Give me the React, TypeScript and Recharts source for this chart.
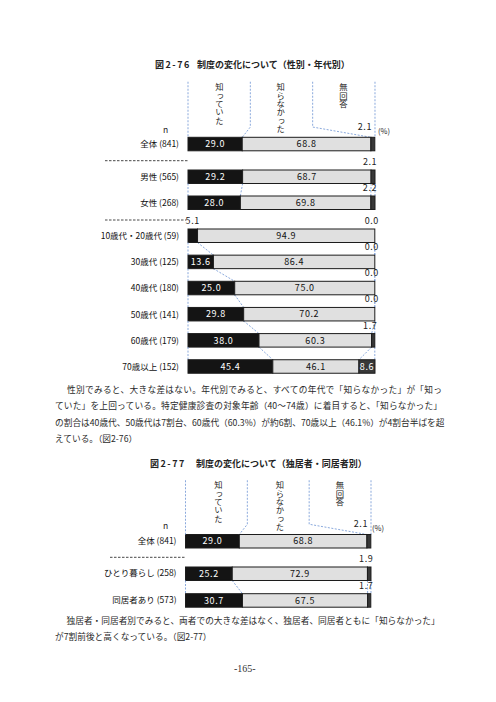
import { Bar, BarChart, XAxis, YAxis } from 'recharts';

const FONT = '"Noto Sans CJK JP", "Noto Sans", sans-serif';
const SERIF = '"Liberation Serif", "DejaVu Serif", serif';

// 図2-76 制度の変化について（性別・年代別）
const fig76Categories = [
  '全体 (841)',
  '男性 (565)',
  '女性 (268)',
  '10歳代・20歳代 (59)',
  '30歳代 (125)',
  '40歳代 (180)',
  '50歳代 (141)',
  '60歳代 (179)',
  '70歳以上 (152)',
];
const fig76Knew = [29.0, 29.2, 28.0, 5.1, 13.6, 25.0, 29.8, 38.0, 45.4];
const fig76DidNotKnow = [68.8, 68.7, 69.8, 94.9, 86.4, 75.0, 70.2, 60.3, 46.1];
const fig76NoAnswer = [2.1, 2.1, 2.2, 0.0, 0.0, 0.0, 0.0, 1.7, 8.6];

// 図2-77 制度の変化について（独居者・同居者別）
const fig77Categories = ['全体 (841)', 'ひとり暮らし (258)', '同居者あり (573)'];
const fig77Knew = [29.0, 25.2, 30.7];
const fig77DidNotKnow = [68.8, 72.9, 67.5];
const fig77NoAnswer = [2.1, 1.9, 1.7];

const seriesNames = ['知っていた', '知らなかった', '無回答'];

interface RowDatum {
  label: string;
  knew: number;
  dnk: number;
  na: number;
}

const buildRows = (cats: string[], a: number[], b: number[], c: number[]): RowDatum[] =>
  cats.map((label, i) => ({ label, knew: a[i], dnk: b[i], na: c[i] }));

const fig76Rows = buildRows(fig76Categories, fig76Knew, fig76DidNotKnow, fig76NoAnswer);
const fig77Rows = buildRows(fig77Categories, fig77Knew, fig77DidNotKnow, fig77NoAnswer);

const BAR = 13.5;
const CHART_W = 400;
const BLUE = '#7d9fd8';
const OUTLINE = '#1c1c1c';
const COLORS = { knew: '#141414', dnk: '#e0e0e0', na: '#383838' };

interface HeaderSpec {
  top: number;
  bend: number;
}

const fmt = (v: number) => v.toFixed(1);

function valueText(x: number, y: number, v: number, color: string) {
  return (
    <text
      x={x}
      y={y}
      textAnchor="middle"
      fill={color}
      fontSize={9}
      fontFamily={FONT}
      letterSpacing={0.6}
    >
      {fmt(v)}
    </text>
  );
}

// first segment also draws the small labels, the dashed connectors to the next row and the header guides
function makeKnewShape(rows: RowDatum[], step: number, header: HeaderSpec | null, barTopAbs: number) {
  return (props: any) => {
    const { x, y, width, height, index } = props;
    const row = rows[index];
    if (!row) return <g />;
    const ppu = width / row.knew;
    const X = (v: number) => x + v * ppu;
    const bounds = [0, row.knew, row.knew + row.dnk, 100];
    const out: any[] = [];

    out.push(
      <rect key="r" x={x} y={y} width={width} height={height} fill={COLORS.knew} stroke={OUTLINE} strokeWidth={1} />
    );
    if (row.knew >= 6) {
      out.push(<g key="v">{valueText(x + width / 2, y + height / 2 + 3.2, row.knew, '#fff')}</g>);
    }

    const aboveY = header ? y - 7.5 : y - 5;
    if (row.knew < 6) {
      out.push(<g key="a1">{valueText(X(row.knew / 2), aboveY, row.knew, '#222')}</g>);
    }
    if (row.na < 6) {
      const shift = header ? -8 : -3;
      out.push(<g key="a3">{valueText(X(row.knew + row.dnk + row.na / 2) + shift, aboveY, row.na, '#222')}</g>);
    }

    if (index < rows.length - 1) {
      const next = rows[index + 1];
      const nb = [0, next.knew, next.knew + next.dnk, 100];
      bounds.forEach((b, i) => {
        out.push(
          <line
            key={`c${i}`}
            x1={X(b)}
            y1={y + height}
            x2={X(nb[i])}
            y2={y + step}
            stroke={BLUE}
            strokeWidth={0.9}
            strokeDasharray="2 1.5"
          />
        );
      });
    }

    if (header && index === 0) {
      const thirds = [0, 100 / 3, 200 / 3, 100];
      const topOff = barTopAbs - header.top;
      const bendOff = barTopAbs - header.bend;
      thirds.forEach((t, i) => {
        out.push(
          <polyline
            key={`h${i}`}
            points={`${X(t)},${y - topOff} ${X(t)},${y - bendOff} ${X(bounds[i])},${y}`}
            fill="none"
            stroke={BLUE}
            strokeWidth={0.9}
            strokeDasharray="2 1.5"
          />
        );
      });
    }
    return <g>{out}</g>;
  };
}

function makeSegShape(key: 'dnk' | 'na', textColor: string) {
  return (props: any) => {
    const { x, y, width, height, payload } = props;
    const v = payload ? payload[key] : 0;
    if (!width || width <= 0) return <g />;
    return (
      <g>
        <rect x={x} y={y} width={width} height={height} fill={COLORS[key]} stroke={OUTLINE} strokeWidth={1} />
        {v >= 6 ? valueText(x + width / 2, y + height / 2 + 3.2, v, textColor) : null}
      </g>
    );
  };
}

interface GroupProps {
  rows: RowDatum[];
  top: number;
  step: number;
  plotLeft: number;
  plotRight: number;
  header?: HeaderSpec;
}

function StackGroup({ rows, top, step, plotLeft, plotRight, header }: GroupProps) {
  const marginTop = header ? top - header.top + 2 : 12;
  const height = marginTop + rows.length * step + 2;
  const barTopAbs = top + (step - BAR) / 2;
  return (
    <div style={{ position: 'absolute', left: 0, top: top - marginTop, width: CHART_W, height }}>
      <BarChart
        layout="vertical"
        width={CHART_W}
        height={height}
        data={rows}
        barSize={BAR}
        margin={{ top: marginTop, right: CHART_W - plotRight, bottom: 2, left: 0 }}
      >
        <XAxis type="number" domain={[0, 100]} hide />
        <YAxis
          type="category"
          dataKey="label"
          width={plotLeft}
          axisLine={false}
          tickLine={false}
          tickSize={0}
          tickMargin={9}
          interval={0}
          tick={{ fontSize: 8.5, fill: '#111', fontFamily: FONT }}
        />
        <Bar
          dataKey="knew"
          name={seriesNames[0]}
          stackId="s"
          fill={COLORS.knew}
          isAnimationActive={false}
          shape={makeKnewShape(rows, step, header ?? null, barTopAbs)}
        />
        <Bar
          dataKey="dnk"
          name={seriesNames[1]}
          stackId="s"
          fill={COLORS.dnk}
          isAnimationActive={false}
          shape={makeSegShape('dnk', '#111')}
        />
        <Bar
          dataKey="na"
          name={seriesNames[2]}
          stackId="s"
          fill={COLORS.na}
          isAnimationActive={false}
          shape={makeSegShape('na', '#fff')}
        />
      </BarChart>
    </div>
  );
}

function Txt({
  x,
  cy,
  children,
  size = 9,
  weight = 400,
  color = '#222',
  font = FONT,
  spacing = 0,
}: {
  x: number;
  cy: number;
  children: any;
  size?: number;
  weight?: number;
  color?: string;
  font?: string;
  spacing?: number;
}) {
  const lh = size * 1.4;
  return (
    <div
      style={{
        position: 'absolute',
        left: x,
        top: cy - lh / 2,
        lineHeight: `${lh}px`,
        fontSize: size,
        fontWeight: weight,
        color,
        fontFamily: font,
        letterSpacing: spacing,
        whiteSpace: 'nowrap',
      }}
    >
      {children}
    </div>
  );
}

function JLine({ x, right, cy, text, justify = true }: { x: number; right: number; cy: number; text: string; justify?: boolean }) {
  const size = 8.7;
  const lh = 13;
  return (
    <div
      style={{
        position: 'absolute',
        left: x,
        top: cy - lh / 2,
        width: right - x,
        fontSize: size,
        lineHeight: `${lh}px`,
        color: '#2a2a2a',
        fontFamily: FONT,
        whiteSpace: 'nowrap',
        textAlign: justify ? 'justify' : 'left',
        textAlignLast: justify ? 'justify' : 'left',
      }}
    >
      {text}
    </div>
  );
}

function VHeader({ cx, top, text }: { cx: number; top: number; text: string }) {
  return (
    <div
      style={{
        position: 'absolute',
        left: cx - 5,
        top,
        width: 10,
        writingMode: 'vertical-rl',
        fontSize: 8.3,
        lineHeight: '10px',
        color: '#222',
        fontFamily: FONT,
        whiteSpace: 'nowrap',
      }}
    >
      {text}
    </div>
  );
}

const para76 = [
  '性別でみると、大きな差はない。年代別でみると、すべての年代で「知らなかった」が「知っ',
  'ていた」を上回っている。特定健康診査の対象年齢（40～74歳）に着目すると、「知らなかった」',
  'の割合は40歳代、50歳代は7割台、60歳代（60.3%）が約6割、70歳以上（46.1%）が4割台半ばを超',
  'えている。（図2-76）',
];
const para77 = [
  '独居者・同居者別でみると、両者での大きな差はなく、独居者、同居者ともに「知らなかった」',
  'が7割前後と高くなっている。（図2-77）',
];

export default function App() {
  return (
    <div
      style={{
        position: 'absolute',
        left: 0,
        top: 0,
        width: 496,
        height: 702,
        background: '#fff',
        overflow: 'hidden',
      }}
    >
      {/* 図2-76 */}
      <Txt x={155} cy={65} weight={700} spacing={1.5}>図2-76</Txt>
      <Txt x={197} cy={65} weight={700}>制度の変化について（性別・年代別）</Txt>
      <VHeader cx={219.3} top={82.5} text={seriesNames[0]} />
      <VHeader cx={280.7} top={82.5} text={seriesNames[1]} />
      <VHeader cx={343.3} top={82.5} text={seriesNames[2]} />
      <Txt x={163} cy={130} size={8.5}>n</Txt>
      <Txt x={378} cy={131} size={7.5}>(%)</Txt>

      <StackGroup rows={fig76Rows.slice(0, 1)} top={131} step={26} plotLeft={188} plotRight={375} header={{ top: 81.7, bend: 127 }} />
      <StackGroup rows={fig76Rows.slice(1, 3)} top={163.7} step={26} plotLeft={188} plotRight={375} />
      <StackGroup rows={fig76Rows.slice(3, 9)} top={223.2} step={26.15} plotLeft={188} plotRight={375} />

      {para76.map((t, i) => (
        <JLine key={i} x={i === 0 ? 67 : 55} right={i === 3 ? 200 : 442} cy={389 + i * 16.5} text={t} justify={i !== 3} />
      ))}

      {/* 図2-77 */}
      <Txt x={150} cy={464} weight={700} spacing={1.5}>図2-77</Txt>
      <Txt x={196} cy={464} weight={700}>制度の変化について（独居者・同居者別）</Txt>
      <VHeader cx={218.3} top={481} text={seriesNames[0]} />
      <VHeader cx={280} top={481} text={seriesNames[1]} />
      <VHeader cx={340} top={481} text={seriesNames[2]} />
      <Txt x={163} cy={526} size={8.5}>n</Txt>
      <Txt x={372} cy={528} size={7.5}>(%)</Txt>

      <StackGroup rows={fig77Rows.slice(0, 1)} top={527.5} step={27} plotLeft={185.5} plotRight={371} header={{ top: 480, bend: 524 }} />
      <StackGroup rows={fig77Rows.slice(1, 3)} top={560} step={26.7} plotLeft={185.5} plotRight={371} />

      {para77.map((t, i) => (
        <JLine key={i} x={i === 0 ? 66.5 : 55} right={i === 1 ? 260 : 439} cy={620.5 + i * 15.5} text={t} justify={i === 0} />
      ))}

      {/* group separators */}
      <svg width={496} height={702} style={{ position: 'absolute', left: 0, top: 0, pointerEvents: 'none' }}>
        <line x1={105} y1={160.7} x2={188} y2={160.7} stroke="#333" strokeWidth={0.9} strokeDasharray="2.5 1.5" />
        <line x1={105} y1={220} x2={186} y2={220} stroke="#333" strokeWidth={0.9} strokeDasharray="2.5 1.5" />
        <line x1={110} y1={557.3} x2={185} y2={557.3} stroke="#333" strokeWidth={0.9} strokeDasharray="2.5 1.5" />
      </svg>

      <Txt x={234} cy={669} size={10} font={SERIF} color="#333">-165-</Txt>
    </div>
  );
}
